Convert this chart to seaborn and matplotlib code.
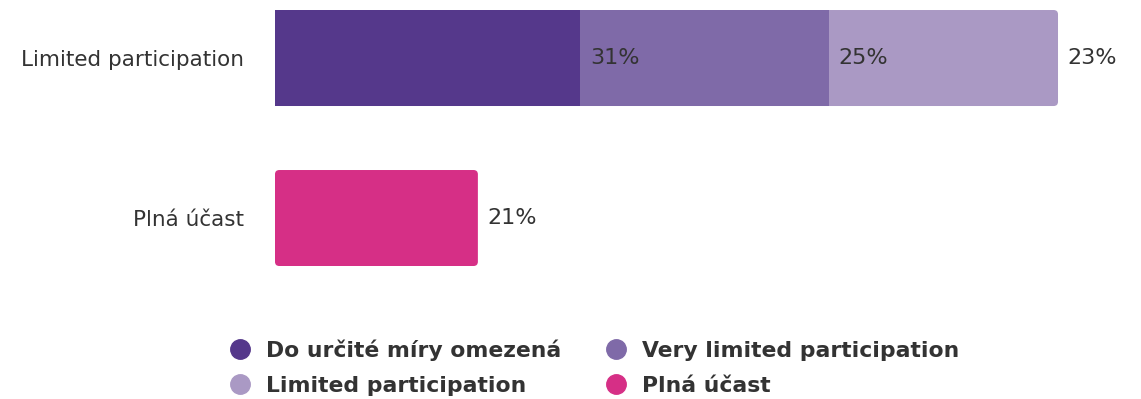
import pandas as pd
import matplotlib.pyplot as plt
import seaborn as sns
from matplotlib.patches import FancyBboxPatch
from matplotlib.lines import Line2D

# data
categories = ["Limited participation", "Plná účast"]
series = ["Do určité míry omezená", "Very limited participation",
          "Limited participation", "Plná účast"]
row_of_series = ["Limited participation", "Limited participation",
                 "Limited participation", "Plná účast"]
values = [31.0, 25.2, 23.3, 20.6]
colors = ["#55388b", "#7f6aa8", "#aa99c4", "#d62f86"]

df = pd.DataFrame({"category": row_of_series, "series": series, "value": values})
df["end"] = df.groupby("category")["value"].cumsum()

sns.set_theme(style="white")
plt.rcParams["font.family"] = ["DejaVu Sans"]

fig = plt.figure(figsize=(11.41, 3.99), dpi=100)
ax = fig.add_axes([0.241, 0.3333, 0.751, 0.6416])

# stacked bars: draw cumulative ends, longest first
order = df.sort_values("end", ascending=False)
outer = df.groupby("category")["end"].transform("max") == df["end"]
for i, row in order.iterrows():
    sub = pd.DataFrame({"category": [row["category"]], "end": [row["end"]]})
    sns.barplot(data=sub, x="end", y="category", order=categories,
                color=colors[i], saturation=1, width=0.6, ax=ax,
                orient="h", linewidth=0)
    bar = ax.patches[-1]
    if outer[i]:
        # rounded right end for the last segment
        bar.set_visible(False)
        x0, y0 = bar.get_x(), bar.get_y()
        w, h = bar.get_width(), bar.get_height()
        ax.add_patch(FancyBboxPatch((x0, y0), w, h,
                                    boxstyle="round,pad=0,rounding_size=0.45",
                                    mutation_aspect=0.06, facecolor=colors[i],
                                    edgecolor="none"))

# value labels after the end of each segment
for i, row in df.iterrows():
    ax.text(row["end"] + 1.0, categories.index(row["category"]),
            f"{int(row['value'] + 0.5)}%", va="center", ha="left",
            fontsize=16, color="#333333")

ax.set_xlim(0, 87)
ax.set_ylim(1.3, -0.3)
ax.set_xlabel("")
ax.set_ylabel("")
ax.set_xticks([])
ax.tick_params(axis="y", length=0, pad=22, labelsize=15.5, labelcolor="#333333")
sns.despine(ax=ax, left=True, bottom=True)

# legend filled row by row
leg_order = [0, 2, 1, 3]
handles = [Line2D([0], [0], marker="o", linestyle="", markersize=14,
                  markerfacecolor=colors[k], markeredgecolor=colors[k])
           for k in leg_order]
fig.legend(handles, [series[k] for k in leg_order], loc="lower center",
           bbox_to_anchor=(0.5158, -0.042), ncol=2, frameon=False,
           handletextpad=0.2, columnspacing=1.5, labelspacing=0.7,
           prop={"weight": "bold", "size": 15.75}, labelcolor="#333333")

fig.savefig("out.png", dpi=100)
